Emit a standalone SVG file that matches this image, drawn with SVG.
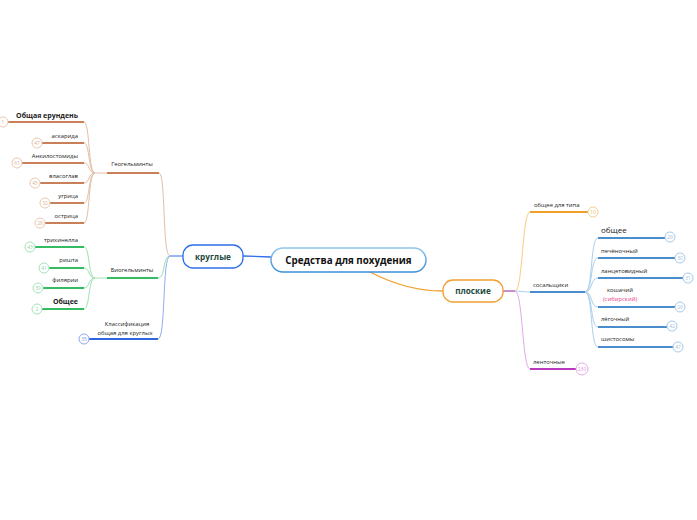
<svg xmlns="http://www.w3.org/2000/svg" width="697" height="520" viewBox="0 0 697 520">
<style>
text{font-family:"Open Sans","Liberation Sans",sans-serif;fill:#222}
.s{font-size:5.9px}
.b{font-size:7px;font-weight:bold}
.n{font-size:5px;text-anchor:middle}
.e{text-anchor:end}
.m{text-anchor:middle}
path,line,circle{fill:none}
.br .ln{stroke:#c8805a;stroke-width:2}
.br .cv{stroke:#e3c0a6;stroke-width:1}
.br circle{stroke:#ebc7ae;fill:#fff}
.br .n{fill:#e0b090}
.gr .ln{stroke:#35bb62;stroke-width:2}
.gr .cv{stroke:#9fe0b2;stroke-width:1}
.gr circle{stroke:#a5e2b8;fill:#fff}
.gr .n{fill:#8fd6a5}
.bl .ln{stroke:#2f66e0;stroke-width:2}
.bl circle{stroke:#8aa8f0;fill:#fff}
.bl .n{fill:#7b9ce8}
.sb .ln{stroke:#4a8ccc;stroke-width:2}
.sb .cv{stroke:#abcfea;stroke-width:1}
.sb circle{stroke:#a7c8e8;fill:#fff}
.sb .n{fill:#9bbfe0}
.or .ln{stroke:#f0a028;stroke-width:2}
.or circle{stroke:#f7cf8a;fill:#fff}
.or .n{fill:#f0bc70}
.pu .ln{stroke:#b93cc0;stroke-width:2}
.pu circle{stroke:#e6a8ea;fill:#fff}
.pu .n{fill:#d890e0}
</style>
<rect width="697" height="520" fill="#fff"/>
<defs>
<linearGradient id="cg" x1="0" y1="0" x2="0" y2="1"><stop offset="0" stop-color="#8ec4ea"/><stop offset="1" stop-color="#3b8fd6"/></linearGradient>
</defs>

<g id="connectors">
<path d="M271,257 L243,256" stroke="#2f6fe8" stroke-width="1.3" fill="none"/>
<path d="M370,272 C395,285 420,291 443,291" stroke="#f0a030" stroke-width="1.3" fill="none"/>
<path d="M183,256 L170,256" stroke="#2f6fe8" stroke-width="1" fill="none"/>
<g class="br">
<path class="cv" d="M170,256 C162,256 166,173 159,173"/>
<line class="ln" x1="107" y1="173" x2="159" y2="173"/>
<path class="cv" d="M95,173 C88,173 90,122 84,122"/>
<path class="cv" d="M95,173 C88,173 90,143 84,143"/>
<path class="cv" d="M95,173 C88,173 90,163 84,163"/>
<path class="cv" d="M95,173 C88,173 90,183 84,183"/>
<path class="cv" d="M95,173 C88,173 90,203 84,203"/>
<path class="cv" d="M95,173 C88,173 90,223 84,223"/>
<line class="cv" x1="95" y1="173" x2="107" y2="173"/>
</g>
<g class="gr">
<path class="cv" d="M170,256 C162,256 166,278 158,278"/>
<line class="ln" x1="107" y1="278" x2="158" y2="278"/>
<path class="cv" d="M95,278 C88,278 90,247 84,247"/>
<path class="cv" d="M95,278 C88,278 90,268 84,268"/>
<path class="cv" d="M95,278 C88,278 90,288 84,288"/>
<path class="cv" d="M95,278 C88,278 90,309 84,309"/>
<line class="cv" x1="95" y1="278" x2="107" y2="278"/>
</g>
<g class="bl">
<path d="M170,256 C162,256 166,339 158,339" stroke="#8fadf2" stroke-width="1"/>
</g>
<g class="or">
<path d="M515,291 C523,291 522,212 530,212" stroke="#f8cc80" stroke-width="1"/>
</g>
<path d="M503,291 L515,291" stroke="#c98fc9" stroke-width="2" fill="none"/>
<g class="pu">
<path d="M515,291 C523,291 522,369 530,369" stroke="#e3a8ea" stroke-width="1"/>
</g>
<g class="sb">
<path class="cv" d="M515,291 C520,291 524,292 530,292"/>
<line class="ln" x1="530" y1="292" x2="585" y2="292"/>
<path class="cv" d="M585,292 C593,292 590,238 598,238"/>
<path class="cv" d="M585,292 C593,292 590,258 598,258"/>
<path class="cv" d="M585,292 C593,292 590,278 598,278"/>
<path class="cv" d="M585,292 C593,292 590,307 598,307"/>
<path class="cv" d="M585,292 C593,292 590,327 598,327"/>
<path class="cv" d="M585,292 C593,292 590,347 598,347"/>
</g>
</g>

<g id="center">
<rect x="271" y="248" width="155" height="24" rx="12" fill="#fff" stroke="url(#cg)" stroke-width="1.5"/>
<text x="348.5" y="263.5" class="m" style="font-size:9.8px;font-weight:bold;fill:#111">Средства для похудения</text>
</g>
<g id="kruglye">
<rect x="183" y="245" width="60" height="23" rx="10" fill="#fff" stroke="#2f6fe8" stroke-width="1.3"/>
<text x="213" y="259.5" class="m" style="font-size:8.2px;font-weight:bold;fill:#1c4a3c">круглые</text>
</g>
<g id="ploskie">
<rect x="443" y="280" width="60" height="22" rx="10" fill="#fff" stroke="#f0a030" stroke-width="1.3"/>
<text x="473" y="294" class="m" style="font-size:8.2px;font-weight:bold;fill:#1c4a3c">плоские</text>
</g>

<g id="geogelminty" class="br"><text x="132" y="166" class="s m">Геогельминты</text></g>
<g id="obshchaya-erunden" class="br"><line class="ln" x1="8" y1="122" x2="84" y2="122"/><circle cx="3" cy="122" r="5"/><text x="3" y="124" class="n">1</text><text x="78" y="118" class="b e">Общая ерундень</text></g>
<g id="askarida" class="br"><line class="ln" x1="42" y1="143" x2="84" y2="143"/><circle cx="37" cy="143" r="5"/><text x="37" y="145" class="n">47</text><text x="78" y="138" class="s e">аскарида</text></g>
<g id="ankilostomidy" class="br"><line class="ln" x1="22" y1="163" x2="84" y2="163"/><circle cx="17" cy="163" r="5"/><text x="17" y="165" class="n">61</text><text x="78" y="158" class="s e">Анкилостомиды</text></g>
<g id="vlasoglav" class="br"><line class="ln" x1="40" y1="183" x2="84" y2="183"/><circle cx="35" cy="183" r="5"/><text x="35" y="185" class="n">45</text><text x="78" y="178" class="s e">власоглав</text></g>
<g id="ugritsa" class="br"><line class="ln" x1="50" y1="203" x2="84" y2="203"/><circle cx="45" cy="203" r="5"/><text x="45" y="205" class="n">32</text><text x="78" y="198" class="s e">угрица</text></g>
<g id="ostritsa" class="br"><line class="ln" x1="45" y1="223" x2="84" y2="223"/><circle cx="40" cy="223" r="5"/><text x="40" y="225" class="n">28</text><text x="78" y="218" class="s e">острица</text></g>

<g id="biogelminty" class="gr"><text x="132" y="272" class="s m">Биогельминты</text></g>
<g id="trikhinella" class="gr"><line class="ln" x1="35" y1="247" x2="84" y2="247"/><circle cx="30" cy="247" r="5"/><text x="30" y="249" class="n">43</text><text x="78" y="242" class="s e">трихинелла</text></g>
<g id="rishta" class="gr"><line class="ln" x1="49" y1="268" x2="84" y2="268"/><circle cx="44" cy="268" r="5"/><text x="44" y="270" class="n">41</text><text x="78" y="262" class="s e">ришта</text></g>
<g id="filyarii" class="gr"><line class="ln" x1="43" y1="288" x2="84" y2="288"/><circle cx="38" cy="288" r="5"/><text x="38" y="290" class="n">39</text><text x="78" y="282" class="s e">филярии</text></g>
<g id="obshchee-l" class="gr"><line class="ln" x1="42" y1="309" x2="84" y2="309"/><circle cx="37" cy="309" r="5"/><text x="37" y="311" class="n">2</text><text x="78" y="304" class="b e">Общее</text></g>

<g id="klassifikatsiya" class="bl"><line class="ln" x1="89" y1="339" x2="158" y2="339"/><circle cx="84" cy="339" r="5"/><text x="84" y="341" class="n">35</text><text x="127" y="326" class="s m">Классификация</text><text x="125" y="335" class="s m">общая для круглых</text></g>

<g id="obshchee-dlya-tipa" class="or"><line class="ln" x1="530" y1="212" x2="588" y2="212"/><circle cx="593" cy="212" r="5"/><text x="593" y="214" class="n">10</text><text x="534" y="207" class="s">общее для типа</text></g>
<g id="sosalshchiki" class="sb"><text x="533" y="287" class="s">сосальщики</text></g>
<g id="lentochnye" class="pu"><line class="ln" x1="530" y1="369" x2="576" y2="369"/><circle cx="582" cy="369" r="6"/><text x="582" y="371" class="n">230</text><text x="533" y="364" class="s">ленточные</text></g>

<g id="obshchee-r" class="sb"><line class="ln" x1="598" y1="238" x2="665" y2="238"/><circle cx="670" cy="237" r="5"/><text x="670" y="239" class="n">29</text><text x="601" y="233" style="font-size:8px">общее</text></g>
<g id="pechyonochny" class="sb"><line class="ln" x1="598" y1="258" x2="675" y2="258"/><circle cx="680" cy="258" r="5"/><text x="680" y="260" class="n">30</text><text x="601" y="253" class="s">печёночный</text></g>
<g id="lantsetovidny" class="sb"><line class="ln" x1="598" y1="278" x2="683" y2="278"/><circle cx="688" cy="278" r="5"/><text x="688" y="280" class="n">31</text><text x="601" y="273" class="s">ланцетовидный</text></g>
<g id="koshachiy" class="sb"><line class="ln" x1="598" y1="307" x2="675" y2="307"/><circle cx="680" cy="307" r="5"/><text x="680" y="309" class="n">26</text><text x="620" y="292" class="s m">кошачий</text><text x="620" y="301" class="s m" style="fill:#e8408a">(сибирский)</text></g>
<g id="lyogochny" class="sb"><line class="ln" x1="598" y1="327" x2="667" y2="327"/><circle cx="672" cy="326" r="5"/><text x="672" y="328" class="n">42</text><text x="601" y="321" class="s">лёгочный</text></g>
<g id="shistosomy" class="sb"><line class="ln" x1="598" y1="347" x2="673" y2="347"/><circle cx="678" cy="347" r="5"/><text x="678" y="349" class="n">47</text><text x="601" y="341" class="s">шистосомы</text></g>
</svg>
